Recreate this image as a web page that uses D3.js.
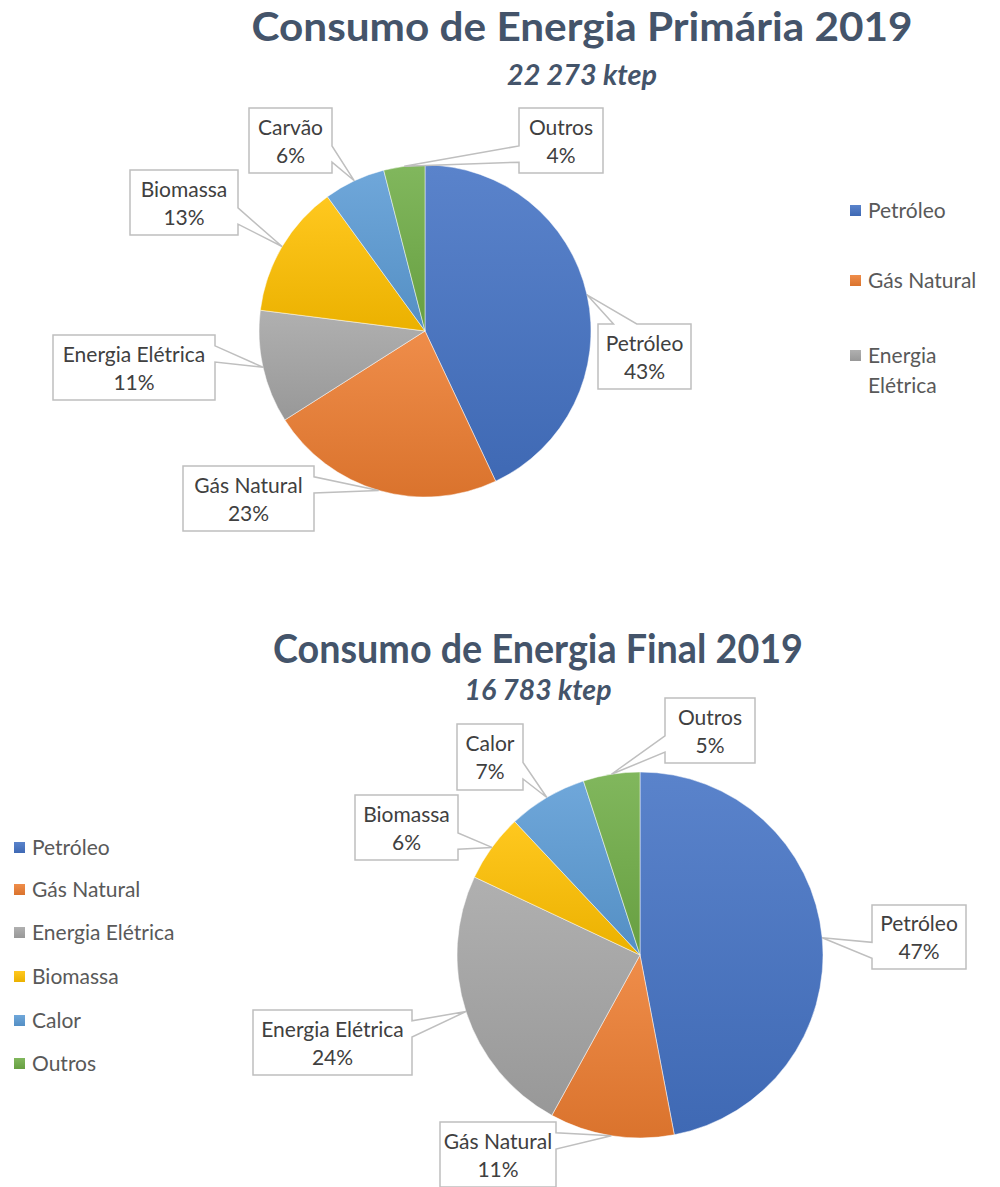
<!DOCTYPE html>
<html><head><meta charset="utf-8">
<script src="https://cdn.jsdelivr.net/npm/d3@7"></script>
<style>body{margin:0;background:#fff}svg{display:block}</style>
</head><body>
<svg id="c" width="1000" height="1187"></svg>
<script>
// ---------- data ----------
const primaryCategories = ["Petróleo", "Gás Natural", "Energia Elétrica", "Biomassa", "Carvão", "Outros"];
const primaryValues = [43, 23, 11, 13, 6, 4];
const finalCategories = ["Petróleo", "Gás Natural", "Energia Elétrica", "Biomassa", "Calor", "Outros"];
const finalValues = [47, 11, 24, 6, 7, 5];
const primaryLegend = ["Petróleo", "Gás Natural", "Energia Elétrica"];
const finalLegend = ["Petróleo", "Gás Natural", "Energia Elétrica", "Biomassa", "Calor", "Outros"];
const primaryTitle = "Consumo de Energia Primária 2019";
const primarySubtitle = "22 273 ktep";
const finalTitle = "Consumo de Energia Final 2019";
const finalSubtitle = "16 783 ktep";

// ---------- styles ----------
const colorMap = {
  "Petróleo": "#4472C4", "Gás Natural": "#ED7D31", "Energia Elétrica": "#A5A5A5",
  "Biomassa": "#FFC000", "Carvão": "#5B9BD5", "Calor": "#5B9BD5", "Outros": "#70AD47"
};
const FONT = "Lato, 'Open Sans', 'DejaVu Sans', sans-serif";
const svg = d3.select("#c");
svg.append("rect").attr("width", 1000).attr("height", 1187).attr("fill", "#fff");
const defs = svg.append("defs");
Object.entries(colorMap).forEach(([k, c], i) => {
  const g = defs.append("linearGradient").attr("id", "g" + i)
    .attr("x1", 0).attr("y1", 0).attr("x2", 0).attr("y2", 1);
  g.append("stop").attr("offset", 0).attr("stop-color", d3.interpolateRgb(c, "#fff")(0.12));
  g.append("stop").attr("offset", 1).attr("stop-color", d3.interpolateRgb(c, "#000")(0.08));
});
const gradId = k => "url(#g" + Object.keys(colorMap).indexOf(k) + ")";

function calloutPath(l, t, w, h, tx, ty) {
  const r = l + w, b = t + h, hc = l + w / 2, vc = t + h / 2;
  const dx = tx - hc, dy = ty - vc;
  const dq = dx * h / w, dz = Math.abs(dy) - Math.abs(dq);
  const x1 = l + w * (dx > 0 ? 7 : 2) / 12, x2 = l + w * (dx > 0 ? 10 : 5) / 12;
  const y1 = t + h * (dy > 0 ? 7 : 2) / 12, y2 = t + h * (dy > 0 ? 10 : 5) / 12;
  const xl = dz > 0 ? l : (dx > 0 ? l : tx), yl = dz > 0 ? y1 : (dx > 0 ? y1 : ty);
  const xt = dz > 0 ? (dy > 0 ? x1 : tx) : x1, yt = dz > 0 ? (dy > 0 ? t : ty) : t;
  const xr = dz > 0 ? r : (dx > 0 ? tx : r), yr = dz > 0 ? y1 : (dx > 0 ? ty : y1);
  const xb = dz > 0 ? (dy > 0 ? tx : x1) : x1, yb = dz > 0 ? (dy > 0 ? ty : b) : b;
  const p = [[l,t],[x1,t],[xt,yt],[x2,t],[r,t],[r,y1],[xr,yr],[r,y2],[r,b],[x2,b],[xb,yb],[x1,b],[l,b],[l,y2],[xl,yl],[l,y1]];
  return "M" + p.map(q => q.join(",")).join("L") + "Z";
}

function drawTitle(text, sub, cx, by, width, sby, swidth) {
  svg.append("text").attr("x", cx).attr("y", by).attr("text-anchor", "middle")
    .attr("font-family", FONT).attr("font-weight", 700).attr("font-size", 41)
    .attr("fill", "#44546A").attr("textLength", width).attr("lengthAdjust", "spacingAndGlyphs").text(text);
  svg.append("text").attr("x", cx).attr("y", sby).attr("text-anchor", "middle")
    .attr("font-family", FONT).attr("font-weight", 700).attr("font-style", "italic").attr("font-size", 29)
    .attr("fill", "#44546A").attr("textLength", swidth).attr("lengthAdjust", "spacingAndGlyphs").text(sub);
}

function drawPie(cats, vals, cx, cy, radius, boxes) {
  const data = cats.map((c, i) => ({ cat: c, value: vals[i] }));
  const total = d3.sum(vals);
  const pie = d3.pie().sort(null).value(d => d.value).startAngle(0).endAngle(2 * Math.PI);
  const arc = d3.arc().innerRadius(0).outerRadius(radius);
  const arcs = pie(data);
  const g = svg.append("g").attr("transform", `translate(${cx},${cy})`);
  g.selectAll("path").data(arcs).join("path")
    .attr("d", arc).attr("fill", d => gradId(d.data.cat))
    .attr("stroke", "#ffffff").attr("stroke-opacity", 0.6).attr("stroke-width", 0.8);
  arcs.forEach((a, i) => {
    const m = (a.startAngle + a.endAngle) / 2;
    const tx = cx + radius * Math.sin(m), ty = cy - radius * Math.cos(m);
    const [l, t, w, h] = boxes[i];
    svg.append("path").attr("d", calloutPath(l, t, w, h, tx, ty))
      .attr("fill", "#fff").attr("stroke", "#BFBFBF").attr("stroke-width", 1.5);
    const pct = Math.round(a.data.value / total * 100) + "%";
    const tc = l + w / 2, vc = t + h / 2;
    svg.append("text").attr("x", tc).attr("y", vc - 6).attr("text-anchor", "middle")
      .attr("font-family", FONT).attr("font-size", 21).attr("fill", "#404040").text(a.data.cat);
    svg.append("text").attr("x", tc).attr("y", vc + 22).attr("text-anchor", "middle")
      .attr("font-family", FONT).attr("font-size", 21).attr("fill", "#404040").text(pct);
  });
}

function drawLegend(items, x, ys, wraps) {
  items.forEach((it, i) => {
    const y = ys[i];
    svg.append("rect").attr("x", x).attr("y", y - 5).attr("width", 11).attr("height", 11)
      .attr("fill", gradId(it));
    const lines = wraps && wraps[i] ? wraps[i] : [it];
    lines.forEach((ln, j) => {
      svg.append("text").attr("x", x + 18).attr("y", y + 8 + j * 30)
        .attr("font-family", FONT).attr("font-size", 21).attr("fill", "#595959").text(ln);
    });
  });
}

// ---------- top chart ----------
drawTitle(primaryTitle, primarySubtitle, 582, 41, 661, 85, 150);
drawPie(primaryCategories, primaryValues, 425, 331, 166, [
  [598, 324, 93, 65], [183, 466, 131, 65], [53, 335, 162, 65],
  [130, 170, 108, 65], [249, 108, 83, 65], [519, 108, 84, 65]
]);
drawLegend(primaryLegend, 850, [210, 280, 355], { 2: ["Energia", "Elétrica"] });

// ---------- bottom chart ----------
drawTitle(finalTitle, finalSubtitle, 538, 663, 530, 700, 147);
drawPie(finalCategories, finalValues, 640, 955, 183, [
  [872, 905, 94, 64], [440, 1122, 116, 65], [253, 1010, 159, 65],
  [355, 795, 103, 65], [457, 724, 66, 66], [665, 698, 90, 65]
]);
drawLegend(finalLegend, 14, [847, 889, 932, 976, 1020, 1063]);
</script>
</body></html>
